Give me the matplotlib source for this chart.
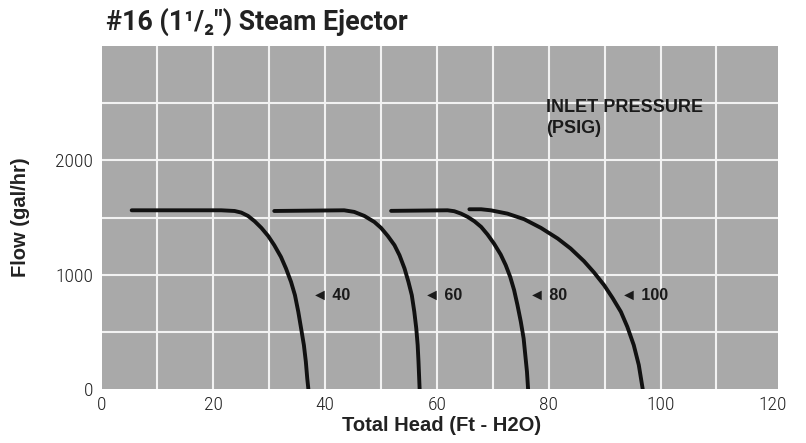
import matplotlib
matplotlib.use("Agg")
import matplotlib.pyplot as plt
from matplotlib import font_manager

# ---------------- data ----------------
pressures = ["40", "60", "80", "100"]

head_40 = [5.4, 21.4, 23.8, 25.0, 26.2, 27.4, 28.6, 29.8, 30.9, 32.1, 33.0,
           33.9, 34.6, 35.2, 35.7, 36.2, 36.55, 36.8, 37.0]
flow_40 = [1563, 1563, 1557, 1543, 1514, 1467, 1409, 1339, 1258, 1155, 1054,
           937, 821, 675, 530, 384, 238, 93, 0]

head_60 = [30.9, 43.4, 45.2, 47.0, 48.8, 50.0, 51.2, 52.4, 53.3, 54.2, 54.9,
           55.5, 55.95, 56.3, 56.55, 56.7, 56.9]
flow_60 = [1557, 1563, 1549, 1514, 1461, 1409, 1339, 1258, 1170, 1054, 937,
           821, 675, 530, 384, 238, 0]

head_80 = [51.8, 61.9, 63.1, 64.3, 65.5, 66.7, 67.9, 69.05, 70.2, 71.4, 72.3,
           73.1, 73.8, 74.4, 75.0, 75.5, 75.8, 76.1, 76.3]
flow_80 = [1558, 1563, 1555, 1534, 1505, 1467, 1418, 1351, 1272, 1176, 1083,
           981, 865, 734, 588, 443, 297, 151, 0]

head_100 = [65.8, 67.9, 69.6, 72.6, 75.6, 78.6, 81.6, 83.9, 86.3, 88.1, 89.9,
            91.4, 92.9, 94.05, 95.2, 96.1, 96.8]
flow_100 = [1572, 1572, 1563, 1534, 1485, 1409, 1316, 1229, 1118, 1019, 908,
            797, 675, 544, 384, 210, 0]

label_head = [37.6, 57.6, 76.4, 93.0]
label_flow = [821, 821, 821, 821]

x_ticks = [0, 20, 40, 60, 80, 100, 120]
y_ticks = [0, 1000, 2000]

title = "#16 (1\u00b9/\u2082\") Steam Ejector"
x_label = "Total Head (Ft - H2O)"
y_label = "Flow (gal/hr)"
legend_title = "INLET PRESSURE\n(PSIG)"

# ---------------- fonts ----------------
entries = font_manager.fontManager.ttflist
names = {f.name for f in entries}


def has_weight(name, maxw):
    for f in entries:
        if f.name == name:
            w = f.weight
            if isinstance(w, str):
                w = {"thin": 100, "extralight": 200, "light": 300,
                     "normal": 400, "regular": 400}.get(w.lower(), 400)
            if w <= maxw:
                return True
    return False


tick_family, tick_weight = "DejaVu Sans", "normal"
for nm in ["Open Sans Condensed", "Roboto Condensed", "Roboto", "Lato", "Open Sans"]:
    if nm in names and has_weight(nm, 300):
        tick_family, tick_weight = nm, "light"
        break
else:
    if "Liberation Sans Narrow" in names:
        tick_family = "Liberation Sans Narrow"

label_family = "Liberation Sans" if "Liberation Sans" in names else "DejaVu Sans"
title_family = "Roboto" if "Roboto" in names else "DejaVu Sans"

# ---------------- figure ----------------
W, H = 806, 443
fig = plt.figure(figsize=(W / 100, H / 100), dpi=100)
ax = fig.add_axes([101.5 / W, 1 - 389 / H, (778 - 101.5) / W, (389 - 46) / H])
ax.set_facecolor("#a9a9a9")
ax.set_xlim(0, 121)
ax.set_ylim(0, 3000)
for s in ax.spines.values():
    s.set_visible(False)

for gx in range(10, 120, 10):
    ax.axvline(gx, color="#f2f2f2", lw=1.5, zorder=1)
for gy in range(500, 3000, 500):
    ax.axhline(gy, color="#f2f2f2", lw=1.5, zorder=1)

curve_kw = dict(color="#111111", lw=2.8, solid_capstyle="round",
                solid_joinstyle="round", zorder=3)
ax.plot(head_40, flow_40, **curve_kw)
ax.plot(head_60, flow_60, **curve_kw)
ax.plot(head_80, flow_80, **curve_kw)
ax.plot(head_100, flow_100, **curve_kw)

for p, hx, fy in zip(pressures, label_head, label_flow):
    ax.text(hx, fy, "\u25c4 " + p, fontsize=11.5, fontweight="bold",
            family=[label_family, "DejaVu Sans"], color="#1a1a1a",
            ha="left", va="center", zorder=4)

ax.text(79.5, 2535, legend_title, fontsize=13, fontweight="bold",
        family=label_family, color="#1a1a1a", ha="left", va="top",
        linespacing=1.3, zorder=4)

ax.set_xticks(x_ticks)
ax.set_yticks(y_ticks)
ax.tick_params(length=0, labelsize=14, colors="#222222")
ax.tick_params(axis="x", pad=5)
ax.tick_params(axis="y", pad=6)
for lab in ax.get_xticklabels() + ax.get_yticklabels():
    lab.set_family(tick_family)
    lab.set_fontweight(tick_weight)

ax.set_xlabel(x_label, fontsize=14.5, fontweight="bold", family=label_family,
              color="#222222")
ax.set_ylabel(y_label, fontsize=14.5, fontweight="bold", family=label_family,
              color="#222222")
ax.xaxis.set_label_coords(0.502, -0.08)
ax.yaxis.set_label_coords(-0.106, 0.5)

fig.text(106 / W, 1 - 30 / H, title, fontsize=19.3, fontweight="bold",
         family=[title_family, "DejaVu Sans"], color="#222222",
         ha="left", va="baseline")

fig.savefig("out.png", dpi=100, facecolor="white")
